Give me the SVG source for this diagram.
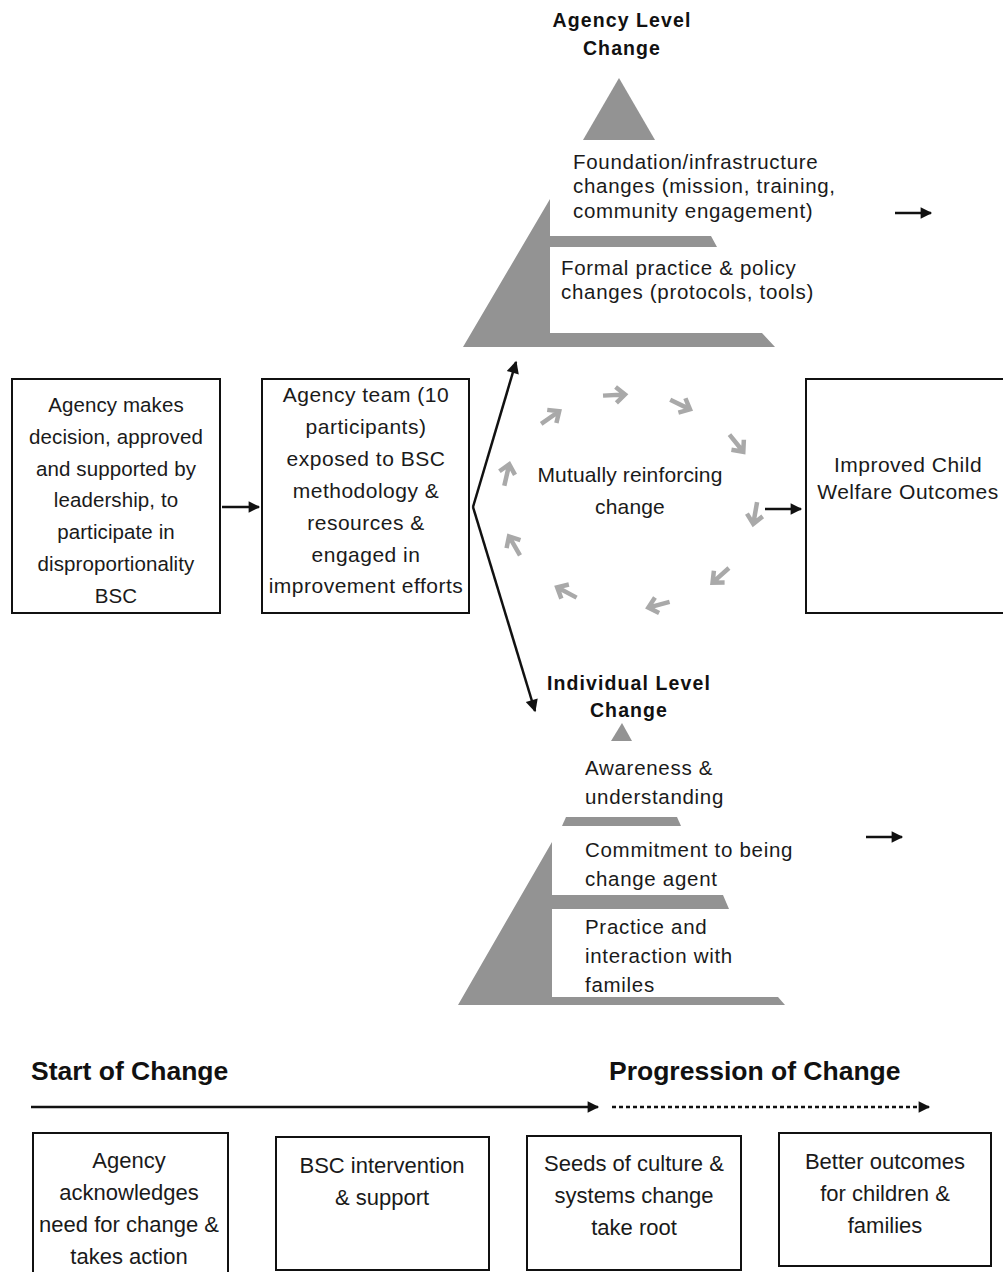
<svg xmlns="http://www.w3.org/2000/svg" width="1003" height="1272" viewBox="0 0 1003 1272">
<style>
.t{font-family:"Liberation Sans",Arial,sans-serif;font-size:21px;fill:#1a1a1a;letter-spacing:0.5px}
.t1{font-family:"Liberation Sans",Arial,sans-serif;font-size:20.5px;fill:#1a1a1a;letter-spacing:0.1px}
.m{font-family:"Liberation Sans",Arial,sans-serif;font-size:21px;fill:#1a1a1a;letter-spacing:0.15px}
.p{font-family:"Liberation Sans",Arial,sans-serif;font-size:20.5px;fill:#1a1a1a;letter-spacing:0.7px}
.b{font-family:"Liberation Sans",Arial,sans-serif;font-size:19.5px;font-weight:bold;fill:#111;letter-spacing:1.1px}
.h{font-family:"Liberation Sans",Arial,sans-serif;font-size:26.5px;font-weight:bold;fill:#111}
.q{font-family:"Liberation Sans",Arial,sans-serif;font-size:22px;fill:#1a1a1a}
.box{fill:#fff;stroke:#111;stroke-width:2}
.gray{fill:#939393}
.ln{stroke:#111;stroke-width:2.5;fill:none}
.ga{stroke:#a9a9a9;stroke-width:4.5;fill:none}
</style>
<defs>
<marker id="ah" viewBox="0 0 10 10" refX="9" refY="5" markerWidth="5.8" markerHeight="4.6" markerUnits="strokeWidth" orient="auto">
<path d="M0,0 L10,5 L0,10 Z" fill="#111"/>
</marker>
<marker id="ahl" viewBox="0 0 10 10" refX="9" refY="5" markerWidth="7" markerHeight="5" markerUnits="strokeWidth" orient="auto">
<path d="M0,0 L10,5 L0,10 Z" fill="#111"/>
</marker>
<g id="garrow">
<path class="ga" d="M-12,0 L10,0 M1,-8 L10,0 L1,8"/>
</g>
</defs>

<g id="agency-level">
<text class="b" x="622" y="27" text-anchor="middle">Agency Level</text>
<text class="b" x="622" y="55" text-anchor="middle">Change</text>
<polygon class="gray" points="619,78 655,140 583,140"/>
<polygon class="gray" points="550,199 550,236 711,236 717,247 550,247 550,333 762,333 775,347 463,347"/>
<text class="p"><tspan x="573" y="169">Foundation/infrastructure</tspan><tspan x="573" y="193">changes (mission, training,</tspan><tspan x="573" y="218">community engagement)</tspan></text>
<text class="p"><tspan x="561" y="275">Formal practice &amp; policy</tspan><tspan x="561" y="299">changes (protocols, tools)</tspan></text>
</g>

<g id="box-decision">
<rect class="box" x="12" y="379" width="208" height="234"/>
<text class="t1" text-anchor="middle"><tspan x="116" y="412">Agency makes</tspan><tspan x="116" y="444">decision, approved</tspan><tspan x="116" y="476">and supported by</tspan><tspan x="116" y="507">leadership, to</tspan><tspan x="116" y="539">participate in</tspan><tspan x="116" y="571">disproportionality</tspan><tspan x="116" y="603">BSC</tspan></text>
</g>

<g id="box-team">
<rect class="box" x="262" y="379" width="207" height="234"/>
<text class="t" text-anchor="middle"><tspan x="366" y="402">Agency team (10</tspan><tspan x="366" y="434">participants)</tspan><tspan x="366" y="466">exposed to BSC</tspan><tspan x="366" y="498">methodology  &amp;</tspan><tspan x="366" y="530">resources &amp;</tspan><tspan x="366" y="562">engaged in</tspan><tspan x="366" y="593">improvement efforts</tspan></text>
</g>

<g id="cycle">
<use href="#garrow" transform="translate(551,417) rotate(-35)"/>
<use href="#garrow" transform="translate(615,395) rotate(-3)"/>
<use href="#garrow" transform="translate(681,405) rotate(26)"/>
<use href="#garrow" transform="translate(737,444) rotate(51)"/>
<use href="#garrow" transform="translate(755,514) rotate(100)"/>
<use href="#garrow" transform="translate(720,576) rotate(138)"/>
<use href="#garrow" transform="translate(658,605) rotate(165)"/>
<use href="#garrow" transform="translate(566,592) rotate(208)"/>
<use href="#garrow" transform="translate(514,545) rotate(240)"/>
<use href="#garrow" transform="translate(507,474) rotate(-77)"/>
<text class="m" text-anchor="middle"><tspan x="630" y="482">Mutually reinforcing</tspan><tspan x="630" y="514">change</tspan></text>
</g>

<g id="box-outcomes">
<rect class="box" x="806" y="379" width="220" height="234"/>
<text class="t" text-anchor="middle"><tspan x="908" y="472">Improved Child</tspan><tspan x="908" y="499">Welfare Outcomes</tspan></text>
</g>

<g id="individual-level">
<text class="b" x="629" y="690" text-anchor="middle">Individual Level</text>
<text class="b" x="629" y="717" text-anchor="middle">Change</text>
<polygon class="gray" points="622,723 632,741 611,741"/>
<polygon class="gray" points="566,817 677,817 681,826 562,826"/>
<polygon class="gray" points="552,842 552,895 723,895 729,909 552,909 552,997 778,997 785,1005 458,1005"/>
<text class="p"><tspan x="585" y="775">Awareness &amp;</tspan><tspan x="585" y="804">understanding</tspan></text>
<text class="p"><tspan x="585" y="857">Commitment to being</tspan><tspan x="585" y="886">change agent</tspan></text>
<text class="p"><tspan x="585" y="934">Practice and</tspan><tspan x="585" y="963">interaction with</tspan><tspan x="585" y="992">familes</tspan></text>
</g>

<g id="timeline">
<text class="h" x="31" y="1080">Start of Change</text>
<text class="h" x="609" y="1080">Progression of Change</text>
</g>

<g id="box-a">
<rect class="box" x="33" y="1133" width="195" height="160"/>
<text class="q" text-anchor="middle"><tspan x="129" y="1168">Agency</tspan><tspan x="129" y="1200">acknowledges</tspan><tspan x="129" y="1232">need for change &amp;</tspan><tspan x="129" y="1264">takes action</tspan></text>
</g>
<g id="box-b">
<rect class="box" x="276" y="1137" width="213" height="133"/>
<text class="q" text-anchor="middle"><tspan x="382" y="1173">BSC intervention</tspan><tspan x="382" y="1205">&amp; support</tspan></text>
</g>
<g id="box-c">
<rect class="box" x="527" y="1136" width="214" height="134"/>
<text class="q" text-anchor="middle"><tspan x="634" y="1171">Seeds of culture &amp;</tspan><tspan x="634" y="1203">systems change</tspan><tspan x="634" y="1235">take root</tspan></text>
</g>
<g id="box-d">
<rect class="box" x="779" y="1133" width="212" height="133"/>
<text class="q" text-anchor="middle"><tspan x="885" y="1169">Better outcomes</tspan><tspan x="885" y="1201">for children &amp;</tspan><tspan x="885" y="1233">families</tspan></text>
</g>

<g id="connectors">
<line class="ln" x1="222" y1="507" x2="259" y2="507" marker-end="url(#ah)"/>
<line class="ln" x1="473" y1="507" x2="516" y2="362" marker-end="url(#ahl)"/>
<line class="ln" x1="473" y1="507" x2="535" y2="711" marker-end="url(#ahl)"/>
<line class="ln" x1="765" y1="509" x2="801" y2="509" marker-end="url(#ah)"/>
<line class="ln" x1="895" y1="213" x2="931" y2="213" marker-end="url(#ah)"/>
<line class="ln" x1="866" y1="837" x2="902" y2="837" marker-end="url(#ah)"/>
<line class="ln" x1="31" y1="1107" x2="598" y2="1107" marker-end="url(#ah)"/>
<line class="ln" x1="612" y1="1107" x2="929" y2="1107" stroke-dasharray="4,3" marker-end="url(#ah)"/>
</g>
</svg>
